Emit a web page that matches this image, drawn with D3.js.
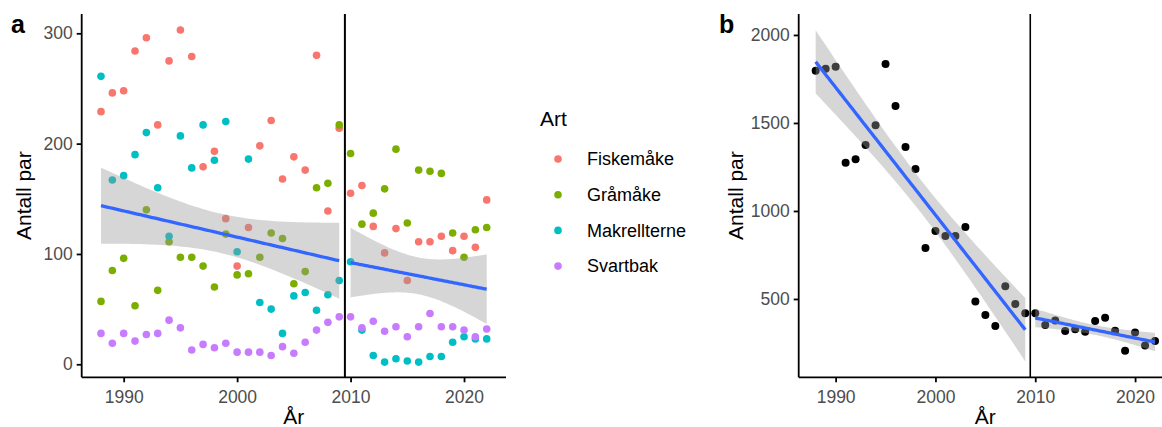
<!DOCTYPE html>
<html>
<head>
<meta charset="utf-8">
<script src="https://cdn.jsdelivr.net/npm/d3@7"></script>
<style>
  body { margin: 0; background: #fff; }
  svg { display: block; font-family: "Liberation Sans", Arial, sans-serif; }
</style>
</head>
<body>
<svg id="chart" width="1162" height="427"></svg>
<script>
// Years of observation
const years = [1988, 1989, 1990, 1991, 1992, 1993, 1994, 1995, 1996, 1997, 1998, 1999,
  2000, 2001, 2002, 2003, 2004, 2005, 2006, 2007, 2008, 2009, 2010, 2011, 2012, 2013,
  2014, 2015, 2016, 2017, 2018, 2019, 2020, 2021, 2022];

// Breeding pairs per species (panel a)
const species = ["Fiskemåke", "Gråmåke", "Makrellterne", "Svartbak"];
const speciesColors = ["#F8766D", "#7CAE00", "#00BFC4", "#C77CFF"];
const fiskemake = [229, 246, 248, 284, 296, 217, 275, 303, 279, 179, 193, 132, 89, 124, 198, 221, 168, 188, 176, 280, 139, 214,
  155, 162, 125, 101, 123, 76, 111, 111, 116, 103, 116, 106, 149];
const gramake = [57, 85, 96, 53, 140, 67, 111, 97, 97, 89, 70, 118, 81, 82, 97, 119, 114, 73, 84, 160, 164, 217,
  191, 127, 137, 159, 195, 128, 176, 175, 173, 119, 97, 122, 124];
const makrellterne = [261, 167, 171, 190, 210, 160, 116, 207, 178, 217, 185, 220, 102, 186, 56, 50, 28, 62, 65, 49, 63, 76,
  93, 31, 8, 2, 5, 3, 2, 7, 7, 20, 25, 23, 23];
const svartbak = [28, 19, 28, 21, 27, 28, 40, 33, 13, 18, 15, 19, 11, 11, 11, 8, 16, 10, 20, 31, 38, 43,
  43, 33, 39, 30, 34, 25, 34, 46, 34, 34, 31, 25, 32];

// Total breeding pairs (panel b)
const totalPar = [1797, 1808, 1820, 1274, 1294, 1375, 1487, 1835, 1597, 1364, 1239, 790, 886, 858, 858, 909, 485, 409, 347, 572, 472, 419,
  419, 352, 377, 318, 328, 314, 375, 394, 320, 206, 309, 235, 261];

// Break between the two periods
const breakYear = 2009.5;

// Axis ticks
const xTicks = [1990, 2000, 2010, 2020];
const yTicksA = [0, 100, 200, 300];
const yTicksB = [500, 1000, 1500, 2000];

const svg = d3.select("#chart");
const TICK_COL = "#4D4D4D";

// ---- linear model with 95% confidence band ----
function tQuantile975(df) {
  const z = 1.959964;
  const z3 = z ** 3, z5 = z ** 5, z7 = z ** 7;
  return z + (z3 + z) / (4 * df) + (5 * z5 + 16 * z3 + 3 * z) / (96 * df * df)
    + (3 * z7 + 19 * z5 + 17 * z3 - 15 * z) / (384 * df ** 3);
}
function lmBand(pts, nOut = 80) {
  const n = pts.length;
  const mx = d3.mean(pts, p => p[0]), my = d3.mean(pts, p => p[1]);
  const sxx = d3.sum(pts, p => (p[0] - mx) ** 2);
  const sxy = d3.sum(pts, p => (p[0] - mx) * (p[1] - my));
  const b = sxy / sxx, a = my - b * mx;
  const sse = d3.sum(pts, p => (p[1] - (a + b * p[0])) ** 2);
  const s = Math.sqrt(sse / (n - 2));
  const t = tQuantile975(n - 2);
  const [x0, x1] = d3.extent(pts, p => p[0]);
  const out = [];
  for (let i = 0; i < nOut; i++) {
    const x = x0 + (x1 - x0) * i / (nOut - 1);
    const fit = a + b * x;
    const se = s * Math.sqrt(1 / n + (x - mx) ** 2 / sxx);
    out.push({ x, fit, lo: fit - t * se, hi: fit + t * se });
  }
  return out;
}

function drawPanel(g, opts) {
  const { x, y, yTicks, pts, r, vlineW } = opts;
  const [xl, xr] = x.range();
  const [yb, yt] = y.range();

  // points
  g.append("g").selectAll("circle").data(pts).join("circle")
    .attr("cx", d => x(d.year)).attr("cy", d => y(d.value))
    .attr("r", r).attr("fill", d => d.color);

  // smooths per period
  const periods = [pts.filter(d => d.year < breakYear), pts.filter(d => d.year > breakYear)];
  periods.forEach(p => {
    const band = lmBand(p.map(d => [d.year, d.value]));
    g.append("path").datum(band)
      .attr("d", d3.area().x(d => x(d.x)).y0(d => y(d.lo)).y1(d => y(d.hi)))
      .attr("fill", "#999999").attr("fill-opacity", 0.4);
    g.append("path").datum(band)
      .attr("d", d3.line().x(d => x(d.x)).y(d => y(d.fit)))
      .attr("fill", "none").attr("stroke", "#3366FF").attr("stroke-width", 3.3);
  });

  // vertical break line
  g.append("line")
    .attr("x1", x(breakYear)).attr("x2", x(breakYear))
    .attr("y1", yt).attr("y2", yb)
    .attr("stroke", "#000").attr("stroke-width", vlineW);

  // axes
  const xAxis = g.append("g").attr("transform", `translate(0,${yb})`)
    .call(d3.axisBottom(x).tickValues(xTicks).tickFormat(d3.format("d")).tickSize(5).tickPadding(4));
  const yAxis = g.append("g").attr("transform", `translate(${xl},0)`)
    .call(d3.axisLeft(y).tickValues(yTicks).tickFormat(d3.format("d")).tickSize(5).tickPadding(4));
  [xAxis, yAxis].forEach(ax => {
    ax.select(".domain").attr("stroke", "#000").attr("stroke-width", 1.8)
      .attr("d", ax === xAxis ? `M${xl},0H${xr}` : `M0,${yb}V${yt}`);
    ax.selectAll(".tick line").attr("stroke", "#000").attr("stroke-width", 1.8);
    ax.selectAll(".tick text").attr("fill", TICK_COL).attr("font-size", 17.5)
      .attr("font-family", "Liberation Sans, Arial, sans-serif");
  });
  xAxis.selectAll(".tick text").attr("dy", "0.95em");
}

// ---- Panel a ----
const xA = d3.scaleLinear().domain([1986.3, 2023.7]).range([81.7, 506]);
const yA = d3.scaleLinear().domain([-11.8, 317.5]).range([377.3, 14]);
const seriesA = [fiskemake, gramake, makrellterne, svartbak];
const ptsA = [];
seriesA.forEach((vals, si) => vals.forEach((v, i) =>
  ptsA.push({ year: years[i], value: v, color: speciesColors[si] })));
const gA = svg.append("g");
drawPanel(gA, { x: xA, y: yA, yTicks: yTicksA, pts: ptsA, r: 3.8, vlineW: 2 });

// ---- Panel b ----
const xB = d3.scaleLinear().domain([1986.3, 2023.7]).range([798.7, 1172]);
const yB = d3.scaleLinear().domain([55, 2119]).range([377.3, 14]);
const ptsB = totalPar.map((v, i) => ({ year: years[i], value: v, color: "#000" }));
const gB = svg.append("g");
drawPanel(gB, { x: xB, y: yB, yTicks: yTicksB, pts: ptsB, r: 4, vlineW: 1.6 });

// ---- titles ----
function axisTitles(xMid, yMid, yTitleX) {
  svg.append("text").attr("x", xMid).attr("y", 424).attr("text-anchor", "middle")
    .attr("font-size", 21).attr("fill", "#000").text("År");
  svg.append("text").attr("transform", `translate(${yTitleX},${yMid}) rotate(-90)`)
    .attr("text-anchor", "middle").attr("font-size", 21).attr("fill", "#000").text("Antall par");
}
axisTitles((81.7 + 506) / 2, 195.6, 31);
axisTitles((798.7 + 1172) / 2, 195.6, 743);

svg.append("text").attr("x", 11).attr("y", 33).attr("font-size", 25).attr("font-weight", "bold").text("a");
svg.append("text").attr("x", 719).attr("y", 33).attr("font-size", 25).attr("font-weight", "bold").text("b");

// ---- legend ----
const legend = svg.append("g");
legend.append("text").attr("x", 540).attr("y", 126).attr("font-size", 21).text("Art");
species.forEach((s, i) => {
  const cy = 159 + i * 35.7;
  legend.append("circle").attr("cx", 558).attr("cy", cy).attr("r", 3.8).attr("fill", speciesColors[i]);
  legend.append("text").attr("x", 587).attr("y", cy).attr("dy", "0.35em")
    .attr("font-size", 18).attr("fill", "#000").text(s);
});
</script>
</body>
</html>
